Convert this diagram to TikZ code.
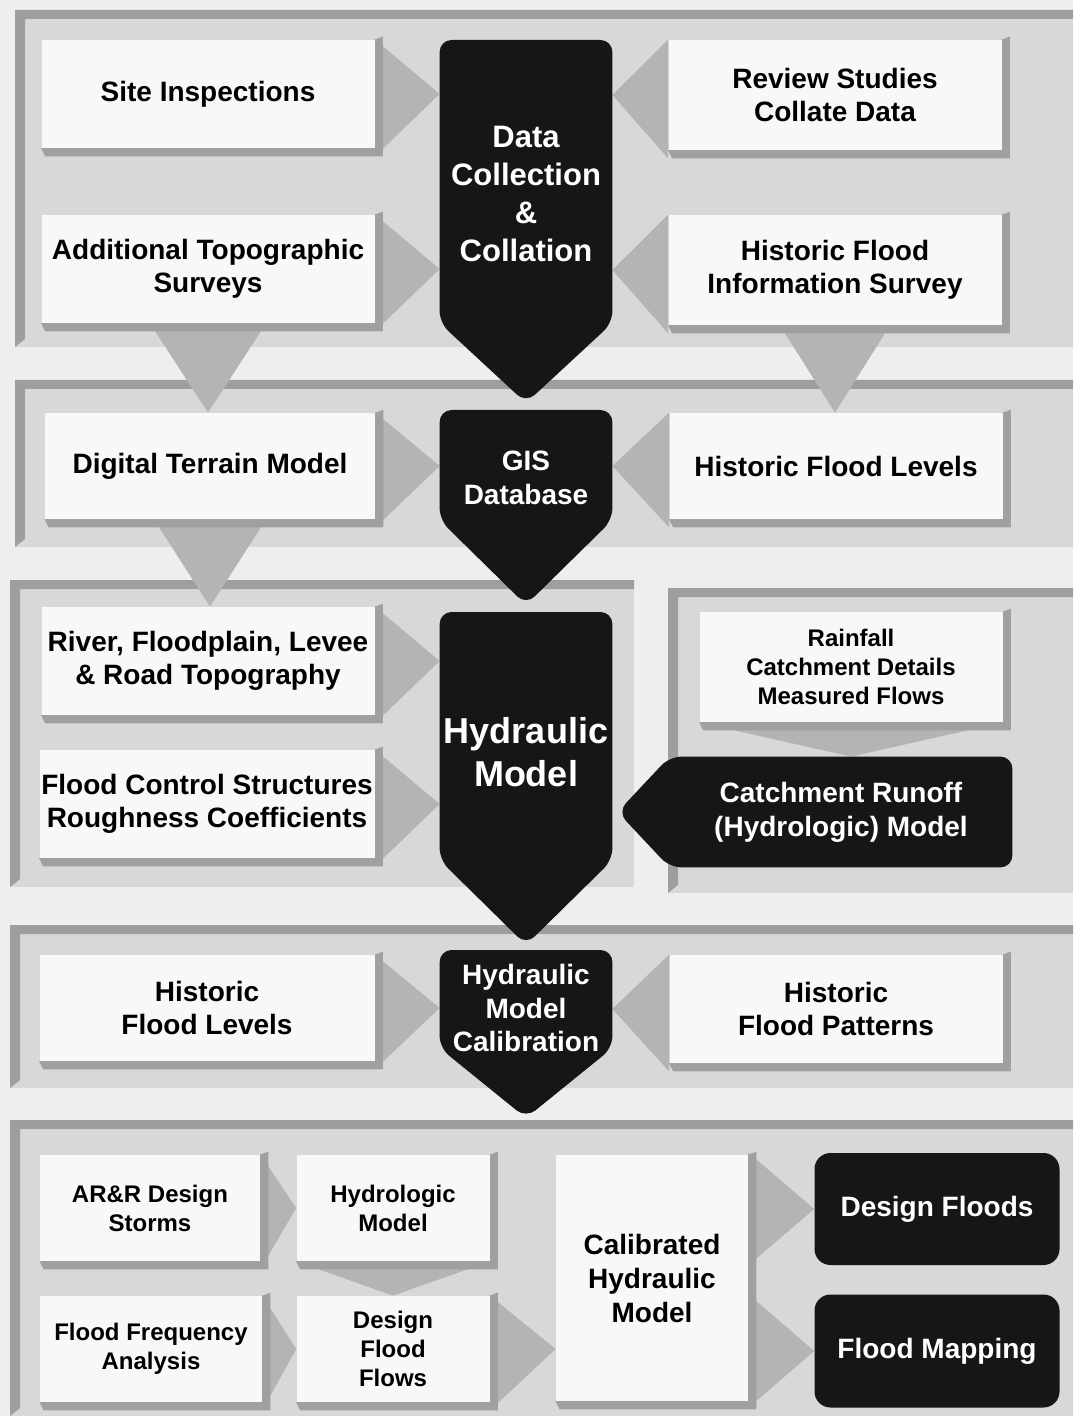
\documentclass[tikz,border=0pt]{standalone}
\usepackage{fontspec}
\setmainfont{Liberation Sans}
\usepackage{tikz}
\usetikzlibrary{calc,positioning}
\usepackage{xcolor}
\definecolor{bggray}{RGB}{238,238,238}
\definecolor{panelgray}{RGB}{216,216,216}
\definecolor{framegray}{RGB}{158,158,158}
\definecolor{boxwhite}{RGB}{248,248,248}
\definecolor{bevelgray}{RGB}{160,160,160}
\definecolor{trigray}{RGB}{180,180,180}
\definecolor{fmblack}{RGB}{22,22,22}
\pgfdeclarelayer{back}
\pgfdeclarelayer{shade}
\pgfsetlayers{back,shade,main}
\tikzstyle{wbox} = [rectangle, fill=boxwhite, inner sep=0pt, align=center, font=\bfseries\fontsize{14}{16.5}\selectfont]
\tikzstyle{bbox} = [rectangle, inner sep=0pt, align=center, text=white, font=\bfseries\fontsize{14}{17}\selectfont]
\tikzstyle{smalltxt} = [font=\bfseries\fontsize{12}{14.5}\selectfont]
\tikzstyle{tri} = [fill=trigray]
\tikzstyle{bevel} = [fill=bevelgray]
\tikzstyle{blk} = [fill=fmblack, rounded corners=6]
\tikzset{dims/.style 2 args={minimum width=#1*0.5pt, minimum height=#2*0.5pt}}
\newcommand{\bandpanel}[4]{%
  \fill[panelgray] (#1,#2) rectangle (#3,#4);
  \fill[framegray] (#1,#2) -- (#3,#2) -- (#3,#2+9) -- (#1+10,#2+9) -- (#1+10,#4-8) -- (#1,#4) -- cycle;}

\begin{document}
\begin{tikzpicture}[x=0.5pt, y=-0.5pt]
    \useasboundingbox (0,0) rectangle (1073,1416);

    % Data collection band
    \node[wbox, dims={333}{108}] (site) at (208,94) {Site Inspections};
    \node[wbox, dims={333}{108}] (topo) at (208,269) {Additional Topographic\\Surveys};
    \node[wbox, dims={333}{110}] (review) at (835,95) {Review Studies\\Collate Data};
    \node[wbox, dims={333}{110}] (hist) at (835,270) {Historic Flood\\Information Survey};
    \node[bbox, minimum width=86pt, font=\bfseries\fontsize{15.5}{19}\selectfont] (dcc) at (526,194) {Data\\Collection\\\&\\Collation};

    % GIS band
    \node[wbox, dims={330}{106}] (dtm) at (210,466) {Digital Terrain Model};
    \node[wbox, dims={333}{106}] (hfl) at (836,466) {Historic Flood Levels};
    \node[bbox, minimum width=86pt] (gis) at (526,478) {GIS\\Database};

    % Hydraulic model band
    \node[wbox, dims={333}{108}] (river) at (208,661) {River, Floodplain, Levee\\\& Road Topography};
    \node[wbox, dims={335}{108}] (fcs) at (207,804) {Flood Control Structures\\Roughness Coefficients};
    \node[wbox, smalltxt, dims={303}{110}] (rain) at (851,667) {Rainfall\\Catchment Details\\Measured Flows};
    \node[bbox, dims={342}{110}] (crm) at (841,812) {Catchment Runoff\\(Hydrologic) Model};
    \node[bbox, minimum width=86pt, font=\bfseries\fontsize{18}{21.5}\selectfont] (hm) at (526,752) {Hydraulic\\Model};

    % Calibration band
    \node[wbox, dims={335}{106}] (hfl2) at (207,1008) {Historic\\Flood Levels};
    \node[wbox, dims={333}{108}] (hfp) at (836,1009) {Historic\\Flood Patterns};
    \node[bbox, minimum width=86pt, font=\bfseries\fontsize{14}{16.75}\selectfont] (hmc) at (526,1008) {Hydraulic\\Model\\Calibration};

    % Design band
    \node[wbox, smalltxt, dims={220}{106}] (arr) at (150,1208) {AR\&R Design\\Storms};
    \node[wbox, smalltxt, dims={193}{106}] (hydro) at (393,1208) {Hydrologic\\Model};
    \node[wbox, smalltxt, dims={222}{106}] (ffa) at (151,1349) {Flood Frequency\\Analysis};
    \node[wbox, smalltxt, dims={193}{106}] (dff) at (393,1349) {Design\\Flood\\Flows};
    \node[wbox, font=\bfseries\fontsize{14}{17}\selectfont, dims={192}{246}] (chm) at (652,1278) {Calibrated\\Hydraulic\\Model};
    \node[bbox, fill=fmblack, rounded corners=8, dims={245}{112}] (df) at (937,1209) {Design Floods};
    \node[bbox, fill=fmblack, rounded corners=8, dims={245}{113}] (fm) at (937,1351) {Flood Mapping};

    % Bands
    \begin{pgfonlayer}{back}
        \fill[bggray] (0,0) rectangle (1073,1416);
        \bandpanel{15}{10}{1073}{347}
        \bandpanel{15}{380}{1073}{547}
        \bandpanel{10}{580}{634}{887}
        \bandpanel{668}{588}{1073}{893}
        \bandpanel{10}{925}{1073}{1088}
        \bandpanel{10}{1120}{1073}{1416}
    \end{pgfonlayer}

    \begin{pgfonlayer}{shade}
        % Grey chevrons
        \foreach \a/\b in {site/dcc, topo/dcc, dtm/gis, river/hm, fcs/hm, hfl2/hmc, arr/hydro, ffa/dff, dff/chm}
            \fill[tri] (\a.north east) -- (\b.west |- \a.east) -- ($(\a.south east)+(0,8)$) -- cycle;
        \foreach \a/\b in {review/dcc, hist/dcc, hfl/gis, hfp/hmc}
            \fill[tri] (\a.north west) -- (\b.east |- \a.west) -- ($(\a.south west)+(0,8)$) -- cycle;
        \foreach \b in {df, fm}
            \fill[tri] (chm.east |- \b.north) -- (\b.west) -- (chm.east |- \b.south) -- cycle;
        \fill[tri] ($(topo.south)+(-58,0)$) -- (topo.south |- dtm.north) -- ($(topo.south)+(58,0)$) -- cycle;
        \fill[tri] ($(hist.south)+(-55,0)$) -- (hist.south |- hfl.north) -- ($(hist.south)+(55,0)$) -- cycle;
        \fill[tri] ($(dtm.south)+(-56,0)$) -- (dtm.south |- river.north) -- ($(dtm.south)+(56,0)$) -- cycle;
        \fill[tri] (rain.south west) -- (rain.south |- crm.north) -- (rain.south east) -- cycle;
        \fill[tri] (hydro.south west) -- (hydro.south |- dff.north) -- (hydro.south east) -- cycle;

        % Box bevels
        \foreach \b in {site, review, topo, hist, dtm, hfl, river, fcs, rain, hfl2, hfp, arr, hydro, ffa, dff, chm}
            \fill[bevel] (\b.north east) -- ++(8,-3) -- ($(\b.south east)+(8,8)$) -- ($(\b.south west)+(4,8)$) -- (\b.south west) -- cycle;

        % Black arrows
        \fill[blk] (dcc.west |- 0,323) -- (dcc.west |- 0,40) -- (dcc.east |- 0,40) -- (dcc.east |- 0,323) -- (dcc.center |- 0,403) -- cycle;
        \fill[blk] (gis.west |- 0,520) -- (gis.west |- 0,410) -- (gis.east |- 0,410) -- (gis.east |- 0,520) -- (gis.center |- 0,605) -- cycle;
        \fill[blk] (hm.west |- 0,860) -- (hm.west |- 0,612) -- (hm.east |- 0,612) -- (hm.east |- 0,860) -- (hm.center |- 0,945) -- cycle;
        \fill[blk] (hmc.west |- 0,1048) -- (hmc.west |- 0,950) -- (hmc.east |- 0,950) -- (hmc.east |- 0,1048) -- (hmc.center |- 0,1118) -- cycle;
        \fill[blk] (crm.north west) -- (crm.north east) -- (crm.south east) -- (crm.south west) -- ($(crm.west)+(-52,0)$) -- cycle;
    \end{pgfonlayer}
\end{tikzpicture}
\end{document}
